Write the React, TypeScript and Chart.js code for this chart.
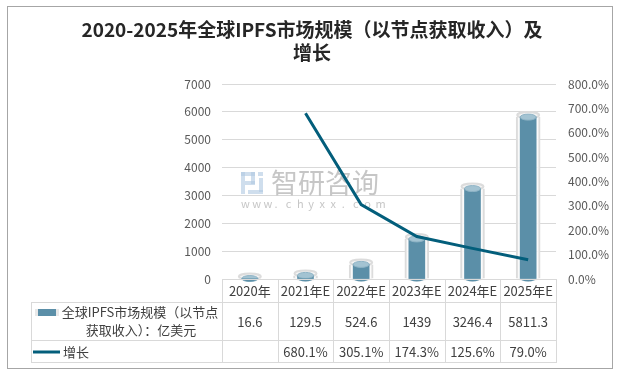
import React, { useEffect, useRef } from 'react';
import { Chart, registerables } from 'chart.js';

Chart.register(...registerables);

const categories = ['2020年', '2021年E', '2022年E', '2023年E', '2024年E', '2025年E'];
const marketSize = [16.6, 129.5, 524.6, 1439, 3246.4, 5811.3];
const growth: (number | null)[] = [null, 680.1, 305.1, 174.3, 125.6, 79.0];
const marketLabels = ['16.6', '129.5', '524.6', '1439', '3246.4', '5811.3'];
const growthLabels = ['', '680.1%', '305.1%', '174.3%', '125.6%', '79.0%'];
const titleLines = ['2020-2025年全球IPFS市场规模（以节点获取收入）及', '增长'];
const seriesNameLines = ['全球IPFS市场规模（以节点', '获取收入）：亿美元'];
const growthName = '增长';
const watermarkName = '智研咨询';
const watermarkUrl = 'www.chyxx.com';

const FONT = '"Noto Sans CJK SC", "Noto Sans", sans-serif';
const BAR = '#5B8FA8';
const BAR_TOP = '#A3C3D2';
const LINE = '#035E7B';
const GRID = '#D9D9D9';
const TEXT = '#404040';

const framePlugin = {
  id: 'frame',
  beforeDraw(chart: any) {
    const { ctx, width, height } = chart;
    ctx.save();
    ctx.fillStyle = '#ffffff';
    ctx.fillRect(0, 0, width, height);
    ctx.strokeStyle = '#A6A6A6';
    ctx.lineWidth = 1;
    ctx.strokeRect(7.5, 6.5, 605, 362);
    // title
    ctx.fillStyle = '#262626';
    ctx.font = 'bold 19px ' + FONT;
    ctx.textAlign = 'center';
    ctx.textBaseline = 'middle';
    ctx.fillText(titleLines[0], 312, 30);
    ctx.fillText(titleLines[1], 312, 53);
    ctx.restore();
  },
  beforeDatasetsDraw(chart: any) {
    const { ctx } = chart;
    ctx.save();
    // watermark logo
    ctx.fillStyle = 'rgba(175,200,225,0.6)';
    ctx.fillRect(241, 172, 4, 22);
    ctx.fillRect(241, 172, 14, 4);
    ctx.fillRect(251, 172, 4, 12);
    ctx.fillRect(245, 181, 10, 4);
    ctx.fillRect(258, 172, 5, 4);
    ctx.fillRect(259, 178, 4, 14);
    ctx.fillRect(248, 190, 15, 4);
    ctx.fillStyle = 'rgba(160,160,160,0.6)';
    ctx.font = '27px ' + FONT;
    ctx.textAlign = 'left';
    ctx.textBaseline = 'middle';
    ctx.fillText(watermarkName, 271, 183);
    ctx.font = '11px ' + FONT;
    const chars = watermarkUrl.split('');
    chars.forEach((c, i) => {
      ctx.fillText(c, 241 + i * 11.2, 204);
    });
    ctx.restore();
  },
  afterDatasetDraw(chart: any, args: any) {
    const idx = args.index;
    if (idx !== 0 && idx !== 1) return;
    const { ctx } = chart;
    const meta = chart.getDatasetMeta(idx);
    ctx.save();
    meta.data.forEach((el: any) => {
      const w = el.width;
      const rx = w / 2;
      const ry = 3;
      ctx.beginPath();
      if (idx === 0) {
        ctx.fillStyle = '#F4F4F4';
        ctx.strokeStyle = '#DCDCDC';
        ctx.lineWidth = 2;
        ctx.ellipse(el.x, el.y - 2, rx - 1, ry, 0, 0, Math.PI * 2);
      } else {
        ctx.fillStyle = BAR_TOP;
        ctx.strokeStyle = '#8FB4C6';
        ctx.lineWidth = 1;
        ctx.ellipse(el.x, el.y, rx, ry, 0, 0, Math.PI * 2);
      }
      ctx.fill();
      ctx.stroke();
      ctx.beginPath();
      ctx.ellipse(el.x, el.base, idx === 0 ? rx - 1 : rx, ry, 0, 0, Math.PI);
      ctx.fillStyle = idx === 0 ? '#F2F2F2' : BAR;
      ctx.fill();
    });
    ctx.restore();
  },
  afterDraw(chart: any) {
    const { ctx } = chart;
    const x = chart.scales.x;
    const n = categories.length;
    const w = (x.right - x.left) / n;
    const top = Math.round(chart.chartArea.bottom);
    const hdrB = top + 23;
    const r1B = top + 61;
    const r2B = top + 83;
    const tableLeft = 31;
    ctx.save();
    ctx.strokeStyle = GRID;
    ctx.lineWidth = 1;
    const hline = (y: number, x0: number, x1: number) => {
      ctx.beginPath();
      ctx.moveTo(x0, y + 0.5);
      ctx.lineTo(x1, y + 0.5);
      ctx.stroke();
    };
    const vline = (xx: number, y0: number, y1: number) => {
      ctx.beginPath();
      ctx.moveTo(Math.round(xx) + 0.5, y0);
      ctx.lineTo(Math.round(xx) + 0.5, y1);
      ctx.stroke();
    };
    hline(top, x.left, x.right + 1);
    hline(hdrB, tableLeft, x.right + 1);
    hline(r1B, tableLeft, x.right + 1);
    hline(r2B, tableLeft, x.right + 1);
    for (let i = 0; i <= n; i++) vline(x.left + i * w, top, r2B + 1);
    vline(tableLeft, hdrB, r2B + 1);

    ctx.fillStyle = TEXT;
    ctx.textAlign = 'center';
    ctx.textBaseline = 'middle';
    ctx.font = '13px ' + FONT;
    categories.forEach((c, i) => {
      const cx = x.getPixelForValue(i);
      ctx.fillText(c, cx, (top + hdrB) / 2 + 1);
      ctx.fillText(marketLabels[i], cx, (hdrB + r1B) / 2 + 1);
      if (growthLabels[i]) ctx.fillText(growthLabels[i], cx, (r1B + r2B) / 2 + 1);
    });
    // legend cells
    ctx.fillText(seriesNameLines[0], 140, hdrB + 10);
    ctx.fillText(seriesNameLines[1], 141, hdrB + 28);
    ctx.fillStyle = '#E8E8E8';
    ctx.fillRect(35, hdrB + 7, 24, 7);
    ctx.fillStyle = BAR;
    ctx.fillRect(38, hdrB + 7, 18, 7);
    ctx.strokeStyle = LINE;
    ctx.lineWidth = 3;
    ctx.beginPath();
    ctx.moveTo(33, (r1B + r2B) / 2 + 1);
    ctx.lineTo(60, (r1B + r2B) / 2 + 1);
    ctx.stroke();
    ctx.fillStyle = TEXT;
    ctx.textAlign = 'left';
    ctx.fillText(growthName, 63, (r1B + r2B) / 2 + 1);
    ctx.restore();
  },
};

export default function App() {
  const ref = useRef<HTMLCanvasElement | null>(null);
  useEffect(() => {
    if (!ref.current) return;
    const chart = new Chart(ref.current, {
      type: 'bar',
      data: {
        labels: categories,
        datasets: [
          {
            type: 'bar',
            label: 'glass',
            data: marketSize,
            yAxisID: 'y',
            backgroundColor: 'rgba(250,250,250,0.85)',
            borderColor: '#DCDCDC',
            borderWidth: { left: 2, right: 2, top: 0, bottom: 0 },
            barThickness: 24,
            grouped: false,
            order: 2,
          } as any,
          {
            type: 'bar',
            label: seriesNameLines.join(''),
            data: marketSize,
            yAxisID: 'y',
            backgroundColor: BAR,
            barThickness: 16,
            grouped: false,
            order: 1,
          } as any,
          {
            type: 'line',
            label: growthName,
            data: growth,
            yAxisID: 'y1',
            borderColor: LINE,
            backgroundColor: LINE,
            borderWidth: 3,
            pointRadius: 0,
            tension: 0,
            spanGaps: false,
            order: 0,
          } as any,
        ],
      },
      options: {
        animation: false,
        responsive: false,
        layout: { padding: { top: 84, bottom: 100, left: 0, right: 0 } },
        plugins: {
          legend: { display: false },
          title: { display: false },
          tooltip: { enabled: false },
        },
        scales: {
          x: {
            ticks: { display: false },
            grid: { display: false, drawTicks: false },
            border: { display: false },
          },
          y: {
            position: 'left',
            min: 0,
            max: 7000,
            ticks: {
              stepSize: 1000,
              color: '#595959',
              font: { size: 12, family: FONT },
              padding: 11,
              callback: (v: any) => String(v),
            },
            grid: { color: GRID, drawTicks: false },
            border: { display: false },
            afterFit: (s: any) => {
              s.width = 222;
            },
          },
          y1: {
            position: 'right',
            min: 0,
            max: 800,
            ticks: {
              stepSize: 100,
              color: '#595959',
              font: { size: 12, family: FONT },
              padding: 12,
              callback: (v: any) => Number(v).toFixed(1) + '%',
            },
            grid: { display: false, drawTicks: false },
            border: { display: false },
            afterFit: (s: any) => {
              s.width = 65;
            },
          },
        },
      },
      plugins: [framePlugin],
    });
    return () => chart.destroy();
  }, []);
  return (
    <div style={{ position: 'fixed', left: 0, top: 0, width: 621, height: 379, background: '#fff' }}>
      <canvas ref={ref} width={621} height={379} style={{ width: 621, height: 379, display: 'block' }} />
    </div>
  );
}
